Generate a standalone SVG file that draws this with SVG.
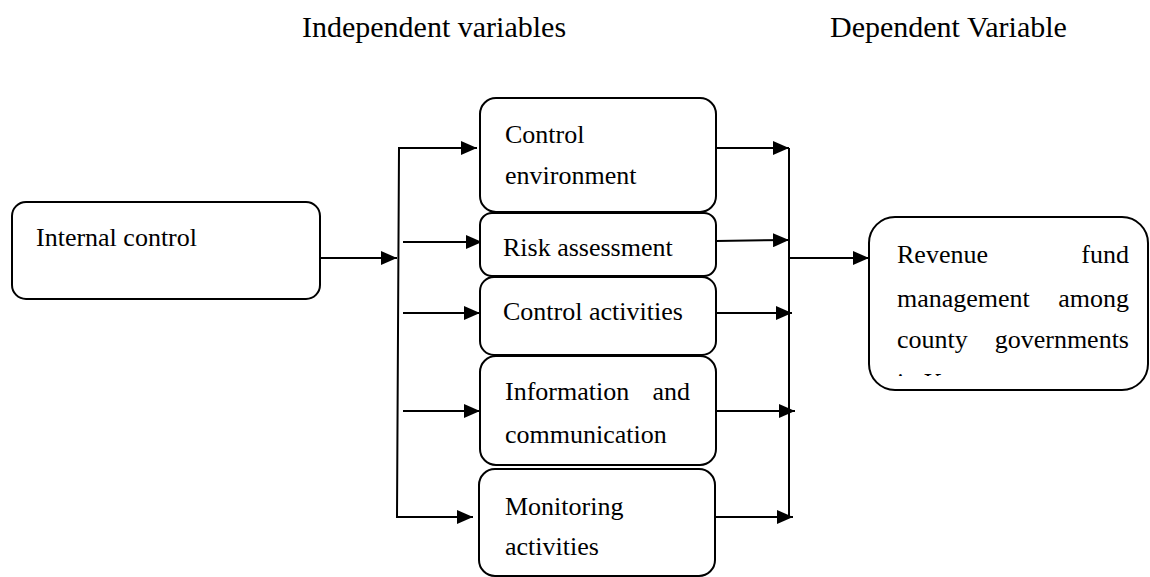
<svg xmlns="http://www.w3.org/2000/svg" width="1150" height="577" viewBox="0 0 1150 577">
<style>
.box{fill:#fff;stroke:#000;stroke-width:2}
.ln{fill:none;stroke:#000;stroke-width:2}
</style>
<defs>
<marker id="ar" viewBox="0 0 16 14" refX="16" refY="7" markerWidth="16" markerHeight="14" markerUnits="userSpaceOnUse" orient="auto">
<path d="M0,0 L16,7 L0,14 Z" fill="#000"/>
</marker>
<clipPath id="revclip"><rect x="870" y="218" width="278" height="158"/></clipPath>
</defs>
<rect width="1150" height="577" fill="#fff"/>
<g font-family="Liberation Serif, serif" font-size="30" fill="#000">
<text x="302" y="37">Independent variables</text>
<text x="830" y="37">Dependent Variable</text>
</g>

<g id="connectors">
<path class="ln" d="M320,258 H397" marker-end="url(#ar)"/>
<path class="ln" d="M399,148 L397,517 H473" marker-end="url(#ar)"/>
<path class="ln" d="M398,148 H477" marker-end="url(#ar)"/>
<path class="ln" d="M403,242 H482" marker-end="url(#ar)"/>
<path class="ln" d="M403,313 H480" marker-end="url(#ar)"/>
<path class="ln" d="M403,411 H480" marker-end="url(#ar)"/>
<path class="ln" d="M789,148 V517"/>
<path class="ln" d="M716,148 H789" marker-end="url(#ar)"/>
<path class="ln" d="M716,241 L789,240" marker-end="url(#ar)"/>
<path class="ln" d="M716,313 H792" marker-end="url(#ar)"/>
<path class="ln" d="M716,411 H795" marker-end="url(#ar)"/>
<path class="ln" d="M716,517 H793" marker-end="url(#ar)"/>
<path class="ln" d="M789,258 H869" marker-end="url(#ar)"/>
</g>

<g font-family="Liberation Serif, serif" font-size="26" fill="#000">
<g id="internal-control">
<rect class="box" x="12" y="202" width="308" height="97" rx="14"/>
<text x="36" y="246">Internal control</text>
</g>
<g id="control-environment">
<rect class="box" x="480" y="98" width="236" height="114" rx="16"/>
<text x="505" y="143">Control</text>
<text x="505" y="184">environment</text>
</g>
<g id="risk-assessment">
<rect class="box" x="480" y="213" width="236" height="63" rx="12"/>
<text x="503" y="256">Risk assessment</text>
</g>
<g id="control-activities">
<rect class="box" x="480" y="277" width="236" height="78" rx="14"/>
<text x="503" y="320">Control activities</text>
</g>
<g id="information-communication">
<rect class="box" x="480" y="356" width="236" height="109" rx="16"/>
<text x="505" y="400">Information</text>
<text x="690" y="400" text-anchor="end">and</text>
<text x="505" y="443">communication</text>
</g>
<g id="monitoring-activities">
<rect class="box" x="479" y="469" width="236" height="107" rx="16"/>
<text x="505" y="515">Monitoring</text>
<text x="505" y="555">activities</text>
</g>
<g id="revenue-fund">
<rect class="box" x="869" y="217" width="279" height="173" rx="26"/>
<text x="897" y="263">Revenue</text>
<text x="1129" y="263" text-anchor="end">fund</text>
<text x="897" y="307">management</text>
<text x="1129" y="307" text-anchor="end">among</text>
<text x="897" y="348">county</text>
<text x="1129" y="348" text-anchor="end">governments</text>
<text x="897" y="391" clip-path="url(#revclip)">in Kenya</text>
</g>
</g>
</svg>
